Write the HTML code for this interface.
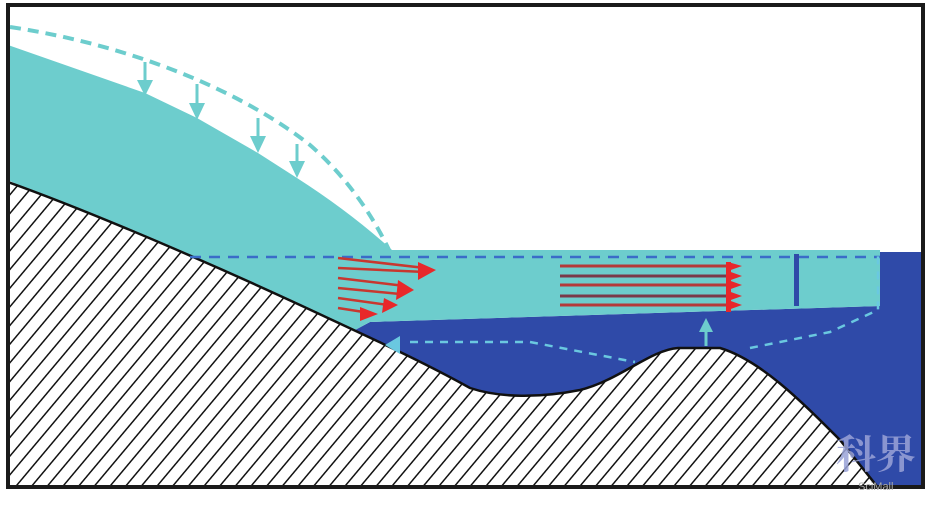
<!DOCTYPE html>
<html><head><meta charset="utf-8"><style>html,body{margin:0;padding:0;background:#fff}svg{display:block}</style></head>
<body>
<svg width="945" height="509" viewBox="0 0 945 509" xmlns="http://www.w3.org/2000/svg">
<defs>
<pattern id="h" patternUnits="userSpaceOnUse" width="12" height="12" patternTransform="rotate(40)">
<rect width="12" height="12" fill="#fff"/>
<line x1="0" y1="0" x2="0" y2="12" stroke="#111" stroke-width="3"/>
</pattern>
<clipPath id="c"><rect x="8" y="5" width="915" height="482"/></clipPath>
</defs>
<rect width="945" height="509" fill="#fff"/>
<g clip-path="url(#c)">
<path d="M340,338 L370,322 L880,306 L880,252 L925,252 L925,490 L340,490 Z" fill="#2f4aa8"/>
<path d="M8,45 L145,93 L197,118 L258,153 L297,178 Q350,212 392,250 L880,250 L880,306 L370,322 L340,338 L8,180 Z" fill="#6dcdcd"/>
<path d="M8,182 C100,215 220,268 300,305 C360,333 420,360 470,388 C500,398 540,398 580,390 C620,380 650,350 678,348 L720,348 C760,360 800,400 840,440 L880,490 L8,490 Z" fill="url(#h)" stroke="#111" stroke-width="2.5"/>
</g>
<path d="M10,27 C130,45 240,90 310,145 C350,180 375,220 390,252" fill="none" stroke="#6dcdcd" stroke-width="4" stroke-dasharray="11,7"/>
<g stroke="#6dcdcd" stroke-width="3" fill="#6dcdcd">
<line x1="145" y1="62" x2="145" y2="82"/><polygon points="137,80 153,80 145,96" stroke="none"/>
<line x1="197" y1="84" x2="197" y2="105"/><polygon points="189,103 205,103 197,120" stroke="none"/>
<line x1="258" y1="118" x2="258" y2="138"/><polygon points="250,136 266,136 258,153" stroke="none"/>
<line x1="297" y1="144" x2="297" y2="163"/><polygon points="289,161 305,161 297,178" stroke="none"/>
</g>
<line x1="190" y1="257" x2="880" y2="257" stroke="#3a6cc8" stroke-width="2.5" stroke-dasharray="11,8"/>
<path d="M410,342 L530,342 L635,362" fill="none" stroke="#6ac8e0" stroke-width="2.5" stroke-dasharray="8,7"/>
<path d="M750,348 L830,332 L878,310 L878,255" fill="none" stroke="#6ac8e0" stroke-width="2.5" stroke-dasharray="8,7"/>
<polygon points="385,345 400,336 400,354" fill="#6ac8e0"/>
<line x1="706" y1="346" x2="706" y2="328" stroke="#6dcdcd" stroke-width="3"/>
<polygon points="699,332 713,332 706,318" fill="#6dcdcd"/>
<rect x="794" y="254" width="5" height="52" fill="#2f4aa8"/>
<g stroke="#c8372f" stroke-width="2.5">
<line x1="338" y1="258" x2="425" y2="268"/>
<line x1="338" y1="268" x2="425" y2="272"/>
<line x1="338" y1="278" x2="405" y2="286"/>
<line x1="338" y1="288" x2="400" y2="294"/>
<line x1="338" y1="298" x2="388" y2="305"/>
<line x1="338" y1="308" x2="370" y2="313"/>
</g>
<g fill="#e8282a">
<polygon points="418,262 436,270 418,280"/>
<polygon points="398,280 414,290 396,300"/>
<polygon points="384,298 398,305 382,313"/>
<polygon points="360,307 378,314 360,321"/>
</g>
<g stroke-width="3">
<line x1="560" y1="266" x2="735" y2="266" stroke="#b53a3a"/>
<line x1="560" y1="276" x2="735" y2="276" stroke="#7a3a4a"/>
<line x1="560" y1="285" x2="735" y2="285" stroke="#b53a3a"/>
<line x1="560" y1="296" x2="735" y2="296" stroke="#7a3a4a"/>
<line x1="560" y1="305" x2="735" y2="305" stroke="#b53a3a"/>
</g>
<g fill="#e8282a">
<polygon points="728,262 742,266 728,271"/>
<polygon points="728,271 742,276 728,281"/>
<polygon points="728,280 742,285 728,290"/>
<polygon points="728,291 742,296 728,301"/>
<polygon points="728,300 742,305 728,310"/>
<rect x="726" y="262" width="5" height="50"/>
</g>
<rect x="8" y="5" width="915" height="482" fill="none" stroke="#1a1a1a" stroke-width="4"/>
<text x="836" y="468" font-family="Noto Serif CJK SC, serif" font-size="40" font-weight="bold" fill="#9aa3d8" opacity="0.85">科界</text>
<text x="858" y="490" font-family="Liberation Sans, sans-serif" font-size="11" fill="#aaa">SciMall</text>
</svg>
</body></html>
